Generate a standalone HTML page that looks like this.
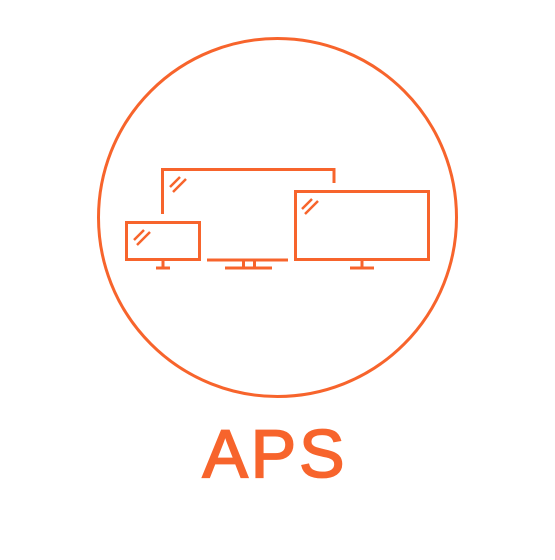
<!DOCTYPE html>
<html><head><style>
html,body{margin:0;padding:0;background:#fff;}
</style></head><body>
<svg width="555" height="555" xmlns="http://www.w3.org/2000/svg">
<g fill="none" stroke="#f7642c" stroke-width="3">
<circle cx="277.5" cy="217.5" r="179"/>
<polyline points="162.5,214 162.5,169.5 334,169.5 334,183"/>
<line x1="207" y1="260" x2="288" y2="260"/>
<line x1="243.5" y1="260" x2="243.5" y2="268"/>
<line x1="254.5" y1="260" x2="254.5" y2="268"/>
<line x1="225" y1="268" x2="272" y2="268"/>
<rect x="126.5" y="222.5" width="73" height="37"/>
<line x1="163" y1="260" x2="163" y2="268"/>
<line x1="156" y1="268" x2="170" y2="268"/>
<rect x="295.5" y="191.5" width="133" height="68"/>
<line x1="362" y1="260" x2="362" y2="268"/>
<line x1="350" y1="268" x2="374" y2="268"/>
<g stroke-width="2.5">
<line x1="134" y1="240" x2="144" y2="230"/><line x1="137" y1="245" x2="150" y2="232"/>
<line x1="170" y1="187" x2="180" y2="177"/><line x1="173" y1="192" x2="186" y2="179"/>
<line x1="302" y1="209" x2="312" y2="199"/><line x1="305" y1="214" x2="318" y2="201"/>
</g>
</g>
<text x="275" y="477" text-anchor="middle" font-family="Liberation Sans, sans-serif" font-size="68" letter-spacing="3" fill="#f7642c" stroke="#f7642c" stroke-width="1.8">APS</text>
</svg>
</body></html>
